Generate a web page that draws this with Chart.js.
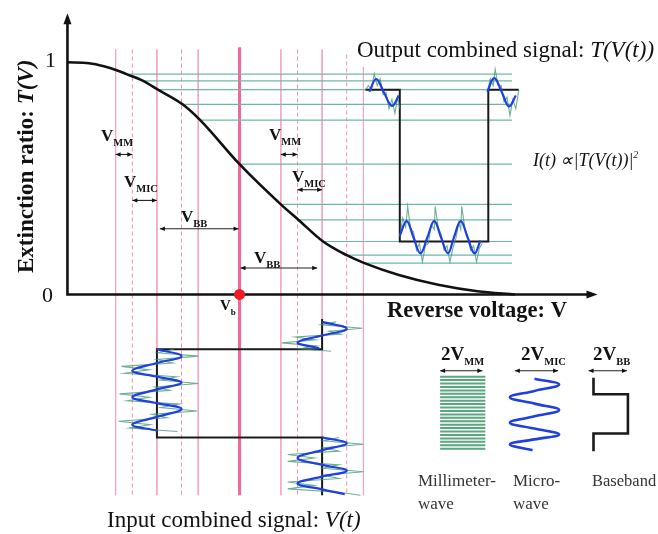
<!DOCTYPE html>
<html>
<head>
<meta charset="utf-8">
<script src="https://cdn.jsdelivr.net/npm/chart.js@4.4.0/dist/chart.umd.min.js"></script>
<style>
  html, body { margin: 0; padding: 0; background: #fff; }
</style>
</head>
<body>
<canvas id="diagram" width="658" height="534"></canvas>
<script>
// bias point and half swings of the three signal parts (horizontal V units)
const Vb = 17.5, VBB = 8.4, VMIC = 2.5, VMM = 1.7;

// extinction curve T(V)
const curveV = [0, 2.2, 3.7, 5.0, 6.0, 7.7, 9.2, 11.7, 13.5, 17.5, 21.7, 23.5, 26.0, 28.4, 30.2, 33.7, 37.7, 41.7, 45.5];
const curveT = [1.000, 0.996, 0.983, 0.966, 0.949, 0.920, 0.882, 0.819, 0.751, 0.561, 0.388, 0.321, 0.228, 0.169, 0.135, 0.084, 0.042, 0.014, 0];

// output levels carried over to the right
const tealT = [0.949, 0.920, 0.882, 0.819, 0.751, 0.561, 0.388, 0.321, 0.228, 0.169, 0.135];
const tealStartV = [6.0, 7.7, 9.2, 11.7, 13.5, 17.5, 21.7, 23.5, 26.0, 28.4, 30.2];
const tealEndV = 45.2;

// output signal: time to the right, T up
const outSquareTime = [0, 3.5, 3.5, 12.5, 12.5, 15.6];
const outSquareT = [0.882, 0.882, 0.228, 0.228, 0.882, 0.882];
const outMicA = [[0.4, 0.873], [1.1, 0.928], [1.9, 0.869], [2.7, 0.812], [3.4, 0.857]];
const outMicB = [[12.4, 0.873], [13.1, 0.932], [13.9, 0.869], [14.6, 0.810], [15.3, 0.857]];
const outMicLow = [[3.5, 0.253], [4.2, 0.316], [4.9, 0.245], [5.6, 0.177], [6.3, 0.245], [7.0, 0.316], [7.7, 0.245],
  [8.4, 0.177], [9.0, 0.245], [9.7, 0.316], [10.4, 0.245], [11.1, 0.177], [11.7, 0.232]];
const outMmA = [[0.0, 0.88], [0.3, 0.90], [0.6, 0.88], [0.9, 0.95], [1.2, 0.90], [1.5, 0.93], [1.8, 0.86], [2.1, 0.87],
  [2.4, 0.80], [2.7, 0.84], [3.0, 0.78], [3.3, 0.85], [3.5, 0.80]];
const outMmB = [[12.4, 0.87], [12.7, 0.93], [13.0, 0.90], [13.2, 0.97], [13.5, 0.90], [13.8, 0.90], [14.1, 0.83],
  [14.4, 0.85], [14.7, 0.77], [15.0, 0.84], [15.3, 0.80], [15.6, 0.88]];
const outMmLow = [[3.5, 0.25], [3.8, 0.33], [4.1, 0.29], [4.3, 0.38], [4.6, 0.28], [4.9, 0.27], [5.2, 0.19], [5.5, 0.22],
  [5.8, 0.14], [6.1, 0.21], [6.4, 0.22], [6.7, 0.30], [7.0, 0.28], [7.1, 0.38], [7.4, 0.29], [7.7, 0.26], [8.0, 0.19],
  [8.3, 0.21], [8.6, 0.14], [8.9, 0.20], [9.2, 0.24], [9.5, 0.31], [9.7, 0.28], [9.8, 0.38], [10.1, 0.29], [10.4, 0.25],
  [10.7, 0.19], [11.0, 0.21], [11.3, 0.14], [11.6, 0.20], [11.9, 0.22]];

// input signal: V across, time downwards
const inBase = [[25.9, 2.5], [25.9, 5.6], [9.1, 5.6], [9.1, 14.6], [25.9, 14.6], [25.9, 20.5]];
const inMicLeft = [[9.1, 5.6], [11.6, 6.3], [9.1, 7.0], [6.6, 7.8], [9.1, 8.4], [11.6, 9.0], [9.1, 9.7], [6.6, 10.5],
  [9.1, 11.1], [11.6, 11.7], [9.1, 12.5], [6.6, 13.3], [9.1, 13.9]];
const inMicUp = [[25.9, 2.8], [28.4, 3.5], [25.9, 4.2], [23.4, 4.9], [25.6, 5.5]];
const inMicDown = [[25.9, 14.6], [28.4, 15.2], [25.9, 15.9], [23.4, 16.7], [25.9, 17.4], [28.4, 18.0], [25.9, 18.6],
  [23.4, 19.3], [25.9, 19.9], [28.2, 20.4]];
const inMmLeft = [[10.8, 5.6], [9.2, 5.95], [13.3, 6.3], [9.1, 6.65], [10.7, 7.0], [5.5, 7.35], [8.3, 7.7], [5.8, 8.05],
  [11.1, 8.4], [9.4, 8.75], [13.3, 9.1], [8.9, 9.45], [10.4, 9.8], [5.3, 10.15], [8.3, 10.5], [6.1, 10.85], [11.4, 11.2],
  [9.5, 11.55], [13.2, 11.9], [8.6, 12.25], [10.1, 12.6], [5.2, 12.95], [8.4, 13.3], [6.3, 13.65], [11.2, 14.0]];
const inMmUp = [[27.3, 2.8], [25.8, 3.1], [30.0, 3.45], [26.6, 3.75], [27.8, 4.05], [23.2, 4.35], [25.2, 4.65],
  [21.8, 4.95], [25.3, 5.25], [23.6, 5.55], [26.8, 5.8]];
const inMmDown = [[27.6, 14.6], [26.0, 14.95], [30.1, 15.3], [26.0, 15.65], [27.6, 16.0], [22.4, 16.35], [25.1, 16.7],
  [22.4, 17.05], [27.6, 17.4], [26.0, 17.75], [30.1, 18.1], [26.0, 18.45], [27.6, 18.8], [22.4, 19.15], [25.1, 19.5],
  [22.4, 19.85], [27.6, 20.2], [29.8, 20.5]];

// legend swatches
const legMmLevels = [8.4, 8.75, 9.1, 9.45, 9.8, 10.15, 10.5, 10.85, 11.2, 11.55, 11.9, 12.25, 12.6, 12.95, 13.3,
  13.65, 14.0, 14.35, 14.7, 15.05, 15.4, 15.75];
const legMmSpan = [37.9, 42.5];
const legMic = [[47.5, 8.6], [50.0, 9.2], [47.5, 9.85], [45.0, 10.5], [47.5, 11.15], [50.0, 11.8], [47.5, 12.45],
  [45.0, 13.1], [47.5, 13.7], [50.0, 14.3], [47.5, 14.8], [45.0, 15.3], [47.3, 15.9]];
const legBase = [[53.5, 8.5], [53.5, 10.2], [57.0, 10.2], [57.0, 14.2], [53.5, 14.2], [53.5, 16.0]];

const GREEN = 'rgba(60,150,110,0.75)', BLUE = '#1f3fe0', TEAL = '#6cb8a8';

const pts = arr => arr.map(p => ({ x: p[0], y: p[1] }));
const layers = [];
function add(data, style, xAxisID, yAxisID) {
  layers.push(Object.assign({ data: data, xAxisID: xAxisID || 'x', yAxisID: yAxisID || 'y',
    pointRadius: 0, fill: false, tension: 0, borderWidth: 1 }, style));
}

// guide lines through the bias point
const guides = [
  { v: Vb - VBB - VMIC - VMM, dash: false }, { v: Vb - VBB - VMIC, dash: true }, { v: Vb - VBB, dash: false },
  { v: Vb - VBB + VMIC, dash: true }, { v: Vb - VBB + VMIC + VMM, dash: false },
  { v: Vb + VBB - VMIC - VMM, dash: false }, { v: Vb + VBB - VMIC, dash: true }, { v: Vb + VBB, dash: false },
  { v: Vb + VBB + VMIC, dash: true, top: 1.034 }, { v: Vb + VBB + VMIC + VMM, dash: false, top: 0.979 }
];
guides.forEach(g => add([{ x: g.v, y: g.top || 1.055 }, { x: g.v, y: -0.865 }],
  { borderColor: g.dash ? '#ee8fb5' : '#f3a6c4', borderWidth: 1, borderDash: g.dash ? [4, 3] : [] }));
add([{ x: Vb, y: 1.065 }, { x: Vb, y: -0.865 }], { borderColor: '#f2679c', borderWidth: 3 });

tealT.forEach((t, i) => add([{ x: tealStartV[i], y: t }, { x: tealEndV, y: t }], { borderColor: TEAL, borderWidth: 1.2 }));

// axes
add([{ x: 0, y: 1.194 }, { x: 0, y: 0 }, { x: 53.5, y: 0 }], { borderColor: '#111', borderWidth: 2.6 });
add(curveV.map((v, i) => ({ x: v, y: curveT[i] })), { borderColor: '#111', borderWidth: 2.6, cubicInterpolationMode: 'monotone' });

// output signal
add(outSquareTime.map((t, i) => ({ x: t, y: outSquareT[i] })), { borderColor: '#1a1a1a', borderWidth: 2 }, 'tx');
[outMmA, outMmB, outMmLow].forEach(d => add(pts(d), { borderColor: GREEN, borderWidth: 1.1 }, 'tx'));
[outMicA, outMicB, outMicLow].forEach(d => add(pts(d), { borderColor: BLUE, borderWidth: 2.2, tension: 0.4 }, 'tx'));

// input signal
add(pts(inBase), { borderColor: '#1a1a1a', borderWidth: 2 }, 'x', 'ty');
[inMmLeft, inMmUp, inMmDown].forEach(d => add(pts(d), { borderColor: GREEN, borderWidth: 1.1 }, 'x', 'ty'));
[inMicLeft, inMicUp, inMicDown].forEach(d => add(pts(d), { borderColor: BLUE, borderWidth: 2.2, tension: 0.4 }, 'x', 'ty'));

// legend swatches
const stripes = [];
legMmLevels.forEach(t => { stripes.push({ x: legMmSpan[0], y: t }, { x: legMmSpan[1], y: t }, { x: legMmSpan[1], y: null }); });
add(stripes, { borderColor: 'rgba(60,150,105,0.85)', borderWidth: 2, spanGaps: false }, 'x', 'ty');
add(pts(legMic), { borderColor: BLUE, borderWidth: 2.6, tension: 0.4 }, 'x', 'ty');
add(pts(legBase), { borderColor: '#1a1a1a', borderWidth: 2.6 }, 'x', 'ty');

// bias point
add([{ x: Vb, y: 0 }], { showLine: false, pointRadius: 5.5, pointBackgroundColor: '#ee1c25', pointBorderWidth: 0 });

layers.forEach((d, i) => { d.order = layers.length - i; });

// double arrows: [from, to, level]
const vArrows = [[Vb - VBB - VMIC - VMM, Vb - VBB - VMIC, 0.603], [Vb - VBB - VMIC, Vb - VBB, 0.405],
  [Vb - VBB + 0.3, Vb - 0.1, 0.283], [Vb + VBB - VMIC - VMM, Vb + VBB - VMIC, 0.603],
  [Vb + VBB - VMIC, Vb + VBB, 0.451], [Vb + 0.1, Vb + VBB - 0.5, 0.114]];
const legArrows = [[37.9, 42.2, 7.8], [45.5, 49.9, 7.8], [53.0, 56.9, 7.8]];

const SERIF = '"Liberation Serif", "Times New Roman", serif';
function rich(ctx, x, y, parts) {
  let cx = x;
  parts.forEach(p => {
    ctx.font = p.f + ' ' + SERIF;
    ctx.fillText(p.t, cx, y + (p.dy || 0));
    cx += ctx.measureText(p.t).width;
  });
}
function head(ctx, x, y, dir, len, half) {
  ctx.beginPath();
  ctx.moveTo(x, y);
  ctx.lineTo(x - dir * len, y - half);
  ctx.lineTo(x - dir * len, y + half);
  ctx.closePath();
  ctx.fill();
}
function dbl(ctx, x1, x2, y) {
  ctx.beginPath(); ctx.moveTo(x1, y); ctx.lineTo(x2, y); ctx.stroke();
  head(ctx, x1, y, -1, 5, 2.2);
  head(ctx, x2, y, 1, 5, 2.2);
}
function vLabel(ctx, x, y, sub, big, small) {
  rich(ctx, x, y, [{ t: 'V', f: 'bold ' + (big || 17) + 'px' }, { t: sub, f: 'bold ' + (small || 10.5) + 'px', dy: 5 }]);
}

const annotations = {
  id: 'annotations',
  afterDatasetsDraw(chart) {
    const ctx = chart.ctx, sx = chart.scales.x, sy = chart.scales.y, st = chart.scales.ty;
    ctx.save();
    ctx.fillStyle = '#111'; ctx.strokeStyle = '#222'; ctx.lineWidth = 1.1;
    ctx.textBaseline = 'alphabetic';

    // axis arrow heads
    const ox = sx.getPixelForValue(0);
    ctx.beginPath();
    ctx.moveTo(ox, sy.getPixelForValue(1.194) - 4);
    ctx.lineTo(ox - 4, sy.getPixelForValue(1.194) + 7);
    ctx.lineTo(ox + 4, sy.getPixelForValue(1.194) + 7);
    ctx.closePath(); ctx.fill();
    head(ctx, sx.getPixelForValue(53.5) + 4, sy.getPixelForValue(0), 1, 11, 4);

    vArrows.forEach(a => dbl(ctx, sx.getPixelForValue(a[0]), sx.getPixelForValue(a[1]), sy.getPixelForValue(a[2])));
    legArrows.forEach(a => dbl(ctx, sx.getPixelForValue(a[0]), sx.getPixelForValue(a[1]), st.getPixelForValue(a[2])));

    // ticks
    rich(ctx, 45, 67, [{ t: '1', f: '22px' }]);
    rich(ctx, 42, 302, [{ t: '0', f: '22px' }]);

    // axis titles
    ctx.save();
    ctx.translate(33, 273);
    ctx.rotate(-Math.PI / 2);
    rich(ctx, 0, 0, [{ t: 'Extinction ratio: ', f: 'bold 23px' }, { t: 'T(V)', f: 'bold italic 23px' }]);
    ctx.restore();
    rich(ctx, 387, 317, [{ t: 'Reverse voltage: V', f: 'bold 22.5px' }]);
    rich(ctx, 357, 57, [{ t: 'Output combined signal: ', f: '23px' }, { t: 'T(V(t))', f: 'italic 23px' }]);
    rich(ctx, 107, 527, [{ t: 'Input combined signal: ', f: '23px' }, { t: 'V(t)', f: 'italic 23px' }]);
    rich(ctx, 533, 166, [{ t: 'I(t) \u221D|T(V(t))|', f: 'italic 18px' }, { t: '2', f: 'italic 10px', dy: -8 }]);

    // bias label
    vLabel(ctx, 220, 310, 'b', 15, 9);

    // swing labels
    vLabel(ctx, 101, 141, 'MM');
    vLabel(ctx, 124, 187, 'MIC');
    vLabel(ctx, 181, 222, 'BB');
    vLabel(ctx, 269, 140, 'MM');
    vLabel(ctx, 292, 182, 'MIC');
    vLabel(ctx, 254, 263, 'BB');

    // legend
    [[441, 'MM'], [521, 'MIC'], [593, 'BB']].forEach(l =>
      rich(ctx, l[0], 360, [{ t: '2V', f: 'bold 19px' }, { t: l[1], f: 'bold 10.5px', dy: 5 }]));
    ctx.fillStyle = '#333';
    rich(ctx, 418, 486, [{ t: 'Millimeter-', f: '17px' }]);
    rich(ctx, 418, 509, [{ t: 'wave', f: '17px' }]);
    rich(ctx, 513, 486, [{ t: 'Micro-', f: '17px' }]);
    rich(ctx, 513, 509, [{ t: 'wave', f: '17px' }]);
    rich(ctx, 592, 486, [{ t: 'Baseband', f: '16.5px' }]);
    ctx.restore();
  }
};

new Chart(document.getElementById('diagram').getContext('2d'), {
  type: 'line',
  data: { datasets: layers },
  options: {
    responsive: false,
    animation: false,
    events: [],
    layout: { padding: 0 },
    plugins: { legend: { display: false }, tooltip: { enabled: false } },
    scales: {
      x: { type: 'linear', display: false, min: -6.3, max: 59.5 },
      y: { type: 'linear', display: false, min: -1.0084, max: 1.2447 },
      tx: { type: 'linear', axis: 'x', display: false, min: -36.6, max: 29.2 },
      ty: { type: 'linear', axis: 'y', display: false, reverse: true, min: -29.5, max: 23.9 }
    }
  },
  plugins: [annotations]
});
</script>
</body>
</html>
